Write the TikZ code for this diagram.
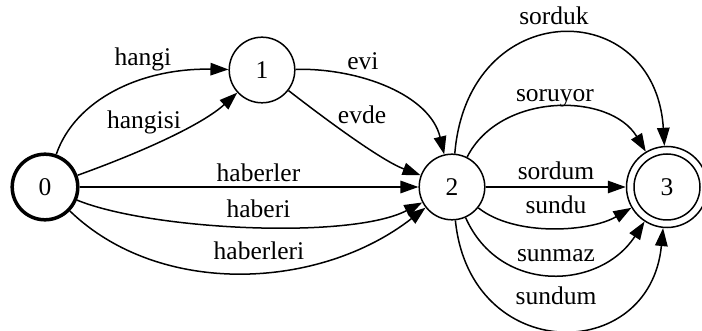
\documentclass[tikz,border=0pt]{standalone}
\usepackage{fontspec}
\setmainfont{Liberation Serif}
\usetikzlibrary{arrows.meta}
\begin{document}
\begin{tikzpicture}[x=1pt,y=-1pt,
  txt/.style={font=\fontsize{25.5}{30}\selectfont},
  state/.style={circle,draw,line width=1.5pt,minimum size=65.6pt,inner sep=0pt,txt},
  startstate/.style={state,line width=3.5pt},
  acceptstate/.style={state,minimum size=81pt},
  trans/.style={line width=1.5pt,-{Triangle[length=18pt,width=12.5pt]}},
  lbl/.style={anchor=base,inner sep=0pt,txt}]
\path[use as bounding box] (0,0) rectangle (702,331);

% states
\node[startstate] (n0) at (45,187) {0};
\node[state] (n1) at (262,70) {1};
\node[state] (n2) at (452,187) {2};
\node[acceptstate] (n3) at (667,187) {3};
\draw[line width=1.5pt] (n3.center) circle (33pt);

% 0 -> 1
\draw[trans] (n0) .. controls (75,100) and (140,68) .. (n1);
\draw[trans] (n0) .. controls (145,151) and (203,124) .. (n1);
% 1 -> 2
\draw[trans] (n1) .. controls (360,68) and (430,95) .. (n2);
\draw[trans] (n1) .. controls (320,115) and (380,160) .. (n2);
% 0 -> 2
\draw[trans] (n0) -- (n2);
\draw[trans] (n0) .. controls (150,230) and (350,240) .. (n2);
\draw[trans] (n0) .. controls (160,298) and (320,290) .. (n2);
% 2 -> 3
\draw[trans] (n2) .. controls (468,-5) and (655,-5) .. (n3);
\draw[trans] (n2) .. controls (500,92) and (610,92) .. (n3);
\draw[trans] (n2) -- (n3);
\draw[trans] (n2) .. controls (515,237) and (590,232) .. (n3);
\draw[trans] (n2) .. controls (500,295) and (600,290) .. (n3);
\draw[trans] (n2) .. controls (470,365) and (650,365) .. (n3);

% transition labels
\node[lbl] (lhangi) at (143,65.7) {hangi};
\node[lbl] (lhangisi) at (144,129) {hangisi};
\node[lbl] (levi) at (363,70) {evi};
\node[lbl] (levde) at (362,124) {evde};
\node[lbl] (lhaberler) at (258.5,181.7) {haberler};
\node[lbl] (lhaberi) at (258.5,218) {haberi};
\node[lbl] (lhaberleri) at (259,260) {haberleri};
\node[lbl] (lsorduk) at (554,25) {sorduk};
\node[lbl] (lsoruyor) at (555,101.7) {soruyor};
\node[lbl] (lsordum) at (556,180) {sordum};
\node[lbl] (lsundu) at (556,214) {sundu};
\node[lbl] (lsunmaz) at (556,261.7) {sunmaz};
\node[lbl] (lsundum) at (556,305) {sundum};
\end{tikzpicture}
\end{document}
